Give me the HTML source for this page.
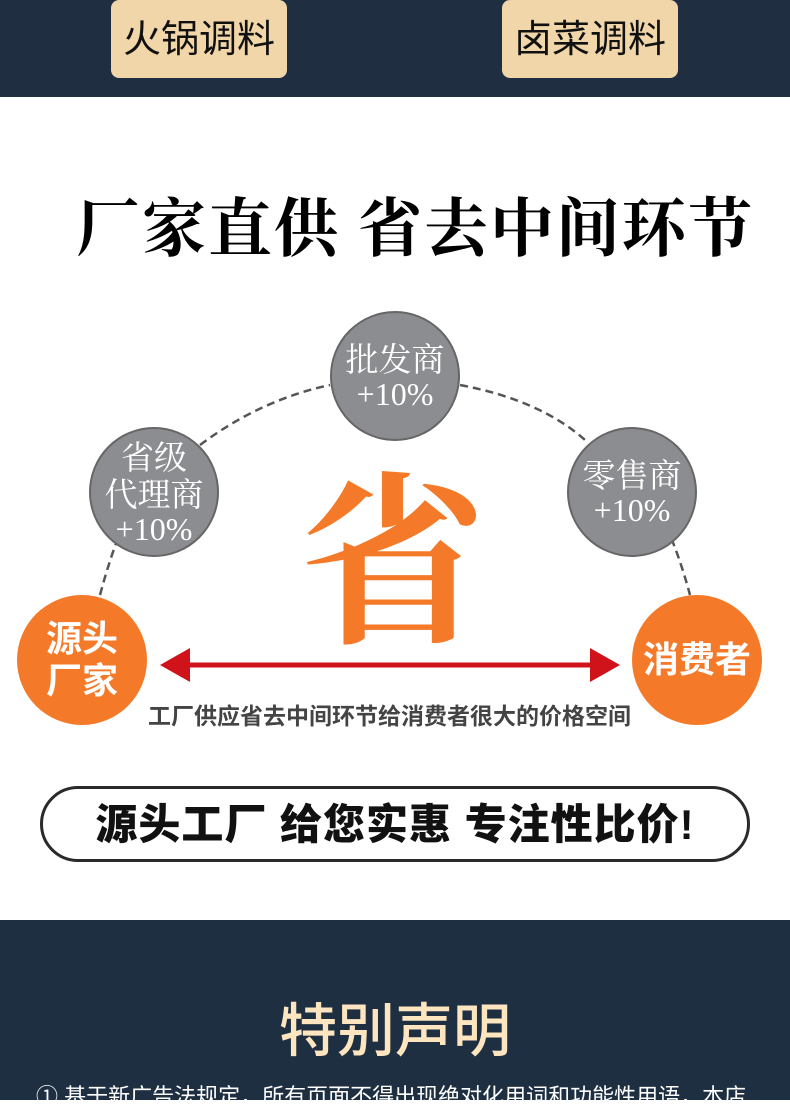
<!DOCTYPE html>
<html><head><meta charset="utf-8"><style>
body{margin:0;width:790px;height:1100px;overflow:hidden;background:#fff;font-family:"Liberation Sans","Noto Sans CJK SC",sans-serif;position:relative}
.a{position:absolute}
.tab{background:#f0d6a9;border-radius:8px;top:0;height:78px;width:176px;font-size:38px;color:#111;text-align:center;line-height:80px;font-weight:400}
.c{position:absolute;border-radius:50%;text-align:center;display:flex;flex-direction:column;justify-content:center;align-items:center}
.g{background:#8c8d90;border:2px solid #666;color:#fff;width:126px;height:126px;font-family:"Noto Serif CJK SC",serif;font-size:33px;line-height:37px}
.g span{font-family:"Liberation Serif",serif;font-size:32px}
.o{background:#f47a2a;color:#fff;width:130px;height:130px;font-weight:bold;font-size:36px;line-height:42px}
</style></head><body>
<div class="a" style="left:0;top:0;width:790px;height:97px;background:#1f2e41"></div>
<div class="a tab" style="left:111px">火锅调料</div>
<div class="a tab" style="left:502px">卤菜调料</div>
<div class="a" style="left:76px;top:184px;width:700px;font-family:'Noto Serif CJK SC',serif;font-weight:bold;font-size:64px;color:#000;letter-spacing:2px;white-space:nowrap;line-height:80px">厂家直供 省去中间环节</div>
<svg class="a" style="left:0;top:0" width="790" height="920">
<path d="M100 595 Q120 520 150 470 M200 445 Q260 400 330 385 M460 385 Q540 400 585 440 M635 470 Q670 520 690 595" fill="none" stroke="#555" stroke-width="2.5" stroke-dasharray="8 5"/>
<line x1="180" y1="665" x2="600" y2="665" stroke="#d0121b" stroke-width="5"/>
<polygon points="160,665 190,648 190,682" fill="#d0121b"/>
<polygon points="620,665 590,648 590,682" fill="#d0121b"/>
</svg>
<div class="c g" style="left:330px;top:311px">批发商<span>+10%</span></div>
<div class="c g" style="left:89px;top:427px">省级<br>代理商<span>+10%</span></div>
<div class="c g" style="left:567px;top:427px">零售商<span>+10%</span></div>
<div class="c o" style="left:17px;top:595px">源头<br>厂家</div>
<div class="c o" style="left:632px;top:595px">消费者</div>
<div class="a" style="left:300px;top:448px;width:180px;text-align:center;font-family:'Noto Serif CJK SC',serif;font-size:185px;line-height:200px;color:#f47a2a;font-weight:bold">省</div>
<div class="a" style="left:148px;top:700px;width:520px;font-size:23px;font-weight:bold;color:#444;white-space:nowrap;line-height:32px">工厂供应省去中间环节给消费者很大的价格空间</div>
<div class="a" style="left:40px;top:786px;width:704px;height:70px;border:3px solid #2a2a2a;border-radius:38px;text-align:center;line-height:72px;font-size:42px;font-weight:900;color:#111;letter-spacing:1px;white-space:nowrap">源头工厂 给您实惠 专注性比价!</div>
<div class="a" style="left:0;top:920px;width:790px;height:180px;background:#1f2f42"></div>
<div class="a" style="left:0;top:992px;width:790px;text-align:center;font-size:58px;color:#fde5c0;line-height:80px;font-weight:500">特别声明</div>
<div class="a" style="left:36px;top:1082px;width:760px;font-size:22px;color:#fff;white-space:nowrap;line-height:30px">① 基于新广告法规定，所有页面不得出现绝对化用词和功能性用语，本店</div>
</body></html>
